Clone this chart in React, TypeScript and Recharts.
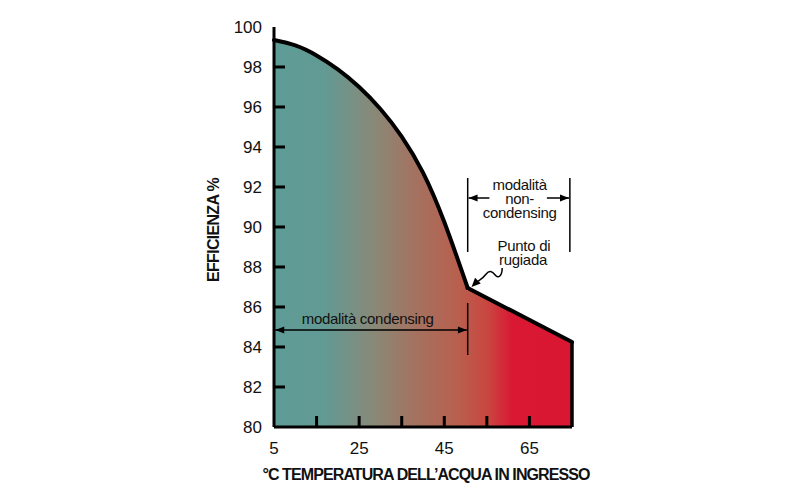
import React from 'react';
import { ComposedChart, Area, XAxis, YAxis, ReferenceLine, ReferenceDot, Label } from 'recharts';

// water temperature (°C) and efficiency (%)
const temps = [5, 10, 15, 20, 25, 30, 35, 40, 45, 50.5, 75];
const condensing = [99.35, 99.08, 98.58, 97.88, 97.0, 95.9, 94.52, 92.72, 90.25, 86.95, null];
const nonCondensing = [null, null, null, null, null, null, null, null, null, 86.95, 84.25];

const xTicks = [5, 15, 25, 35, 45, 55, 65];
const xLabels = [5, 25, 45, 65];
const yTicks = [80, 82, 84, 86, 88, 90, 92, 94, 96, 98, 100];

const dewPoint = { x: 50.5, y: 86.95 };
const xEnd = 75;

const data = temps.map((t, i) => ({ t, cond: condensing[i], noncond: nonCondensing[i] }));

const FONT = '"Liberation Sans", Arial, Helvetica, sans-serif';

const YTick = (props: any) => {
  const { x, y, payload } = props;
  const v = payload.value;
  return (
    <g>
      {v > 80 && v < 100 && <line x1={x} x2={x + 11} y1={y} y2={y} stroke="#000" strokeWidth={3} />}
      <text x={x - 12} y={y} textAnchor="end" dominantBaseline="central" fontSize={17} fill="#111" fontFamily={FONT}>
        {v}
      </text>
    </g>
  );
};

const XTick = (props: any) => {
  const { x, y, payload } = props;
  const v = payload.value;
  return (
    <g>
      {v > 5 && <line x1={x} x2={x} y1={y} y2={y - 11} stroke="#000" strokeWidth={3} />}
      {xLabels.includes(v) && (
        <text x={x} y={y + 21} textAnchor="middle" dominantBaseline="central" fontSize={17} fill="#111" fontFamily={FONT}>
          {v}
        </text>
      )}
    </g>
  );
};

const head = (tx: number, ty: number, fx: number, fy: number, len = 9, half = 3.5) => {
  const d = Math.hypot(tx - fx, ty - fy) || 1;
  const ux = (tx - fx) / d;
  const uy = (ty - fy) / d;
  const bx = tx - ux * len;
  const by = ty - uy * len;
  return `${tx},${ty} ${bx - uy * half},${by + ux * half} ${bx + uy * half},${by - ux * half}`;
};

// arrow with heads on both ends
const DoubleArrow = (p: any) => (
  <g>
    <line x1={p.x1} y1={p.y1} x2={p.x2} y2={p.y2} stroke="#000" strokeWidth={1.5} />
    <polygon points={head(p.x1, p.y1, p.x2, p.y2)} fill="#000" />
    <polygon points={head(p.x2, p.y2, p.x1, p.y1)} fill="#000" />
  </g>
);

// arrow with head on the second point
const Arrow = (p: any) => (
  <g>
    <line x1={p.x1} y1={p.y1} x2={p.x2} y2={p.y2} stroke="#000" strokeWidth={1.5} />
    <polygon points={head(p.x2, p.y2, p.x1, p.y1)} fill="#000" />
  </g>
);

const Thin = (p: any) => <line x1={p.x1} y1={p.y1} x2={p.x2} y2={p.y2} stroke="#000" strokeWidth={1.5} />;

const Edge = (p: any) => <line x1={p.x1} y1={p.y1} x2={p.x2} y2={p.y2} stroke="#000" strokeWidth={3.5} />;

// hides the hairline where the two fills meet
const Seam = (p: any) => <line x1={p.x1} y1={p.y1} x2={p.x2} y2={p.y2} stroke="url(#heat)" strokeWidth={2} />;

// squiggly pointer to the dew point
const Squiggle = (p: any) => {
  const sx = p.x1;
  const sy = p.y1;
  const tx = p.x2;
  const ty = p.y2;
  const path = `M${sx},${sy} C${sx},${sy + 8} ${sx - 4},${sy + 11} ${sx - 7},${sy + 7} C${sx - 10},${sy + 3} ${sx - 13},${sy + 2} ${sx - 16},${sy + 6} C${sx - 19},${sy + 10} ${sx - 21},${sy + 11} ${sx - 24},${sy + 13} L${tx + 4},${ty - 4}`;
  return (
    <g>
      <path d={path} fill="none" stroke="#000" strokeWidth={1.5} />
      <polygon points={head(tx, ty, tx + 6, ty - 6, 9, 4)} fill="#000" />
    </g>
  );
};

const note = (text: string) => (p: any) => (
  <text x={p.cx} y={p.cy} textAnchor="middle" dominantBaseline="central" fontSize={15} letterSpacing={-0.3} fill="#111" fontFamily={FONT}>
    {text}
  </text>
);

const notes = [
  { x: 27, y: 85.45, text: 'modalità condensing' },
  { x: 62.7, y: 92.12, text: 'modalità' },
  { x: 62.7, y: 91.42, text: 'non-' },
  { x: 62.7, y: 90.72, text: 'condensing' },
  { x: 63.7, y: 89.07, text: 'Punto di' },
  { x: 63.5, y: 88.38, text: 'rugiada' },
];

export default function App() {
  return (
    <div style={{ position: 'absolute', left: 0, top: 0, width: 800, height: 500, background: '#fff' }}>
      <ComposedChart width={800} height={500} data={data} margin={{ top: 27, right: 228, bottom: 33, left: 214 }}>
        <defs>
          <linearGradient id="heat" gradientUnits="userSpaceOnUse" x1={274} y1={0} x2={572} y2={0}>
            <stop offset="0" stopColor="#5f9c97" />
            <stop offset="0.17" stopColor="#629a94" />
            <stop offset="0.34" stopColor="#8a8877" />
            <stop offset="0.46" stopColor="#a27462" />
            <stop offset="0.62" stopColor="#b95f4e" />
            <stop offset="0.72" stopColor="#ca4540" />
            <stop offset="0.8" stopColor="#d91833" />
            <stop offset="1" stopColor="#d91733" />
          </linearGradient>
        </defs>
        <XAxis
          dataKey="t"
          type="number"
          domain={[5, xEnd]}
          ticks={xTicks}
          interval={0}
          tickSize={0}
          tickMargin={0}
          tickLine={false}
          tick={<XTick />}
          height={40}
          axisLine={{ stroke: '#000', strokeWidth: 3 }}
        >
          <Label
            content={(p: any) => (
              <text
                x={p.viewBox.x + p.viewBox.width / 2 + 3}
                y={p.viewBox.y + 47}
                textAnchor="middle"
                dominantBaseline="central"
                fontSize={16}
                fontWeight="bold"
                letterSpacing={-0.9}
                fill="#111"
                fontFamily={FONT}
              >
                °C TEMPERATURA DELL’ACQUA IN INGRESSO
              </text>
            )}
          />
        </XAxis>
        <YAxis
          type="number"
          domain={[80, 100]}
          ticks={yTicks}
          interval={0}
          tickSize={0}
          tickMargin={0}
          tickLine={false}
          tick={<YTick />}
          width={60}
          axisLine={{ stroke: '#000', strokeWidth: 3 }}
        >
          <Label
            content={(p: any) => {
              const cx = p.viewBox.x - 1;
              const cy = p.viewBox.y + 203;
              return (
                <text
                  x={cx}
                  y={cy}
                  transform={`rotate(-90 ${cx} ${cy})`}
                  textAnchor="middle"
                  dominantBaseline="central"
                  fontSize={16}
                  fontWeight="bold"
                  letterSpacing={-0.7}
                  fill="#111"
                  fontFamily={FONT}
                >
                  EFFICIENZA %
                </text>
              );
            }}
          />
        </YAxis>
        <Area
          dataKey="cond"
          type="natural"
          fill="url(#heat)"
          fillOpacity={1}
          stroke="#000"
          strokeWidth={4}
          strokeLinecap="round"
          dot={false}
          activeDot={false}
          isAnimationActive={false}
        />
        <Area
          dataKey="noncond"
          type="linear"
          fill="url(#heat)"
          fillOpacity={1}
          stroke="#000"
          strokeWidth={4}
          strokeLinecap="round"
          dot={false}
          activeDot={false}
          isAnimationActive={false}
        />
        <ReferenceLine segment={[{ x: dewPoint.x, y: 80.1 }, { x: dewPoint.x, y: dewPoint.y - 0.15 }]} shape={Seam} />
        <ReferenceLine segment={[{ x: xEnd, y: 80 }, { x: xEnd, y: 84.25 }]} shape={Edge} />
        {/* condensing bracket */}
        <ReferenceLine segment={[{ x: dewPoint.x, y: 86.2 }, { x: dewPoint.x, y: 83.6 }]} shape={Thin} />
        <ReferenceLine segment={[{ x: 5.3, y: 84.85 }, { x: dewPoint.x - 0.2, y: 84.85 }]} shape={DoubleArrow} />
        {/* non-condensing bracket */}
        <ReferenceLine segment={[{ x: dewPoint.x, y: 92.45 }, { x: dewPoint.x, y: 88.75 }]} shape={Thin} />
        <ReferenceLine segment={[{ x: 74.5, y: 92.45 }, { x: 74.5, y: 88.75 }]} shape={Thin} />
        <ReferenceLine segment={[{ x: 55.6, y: 91.45 }, { x: 50.7, y: 91.45 }]} shape={Arrow} />
        <ReferenceLine segment={[{ x: 69.1, y: 91.45 }, { x: 74.3, y: 91.45 }]} shape={Arrow} />
        {/* dew point pointer */}
        <ReferenceLine segment={[{ x: 58.6, y: 87.95 }, { x: 51.4, y: 87.0 }]} shape={Squiggle} />
        {notes.map((n) => (
          <ReferenceDot key={n.text} x={n.x} y={n.y} r={0} shape={note(n.text)} />
        ))}
      </ComposedChart>
    </div>
  );
}
